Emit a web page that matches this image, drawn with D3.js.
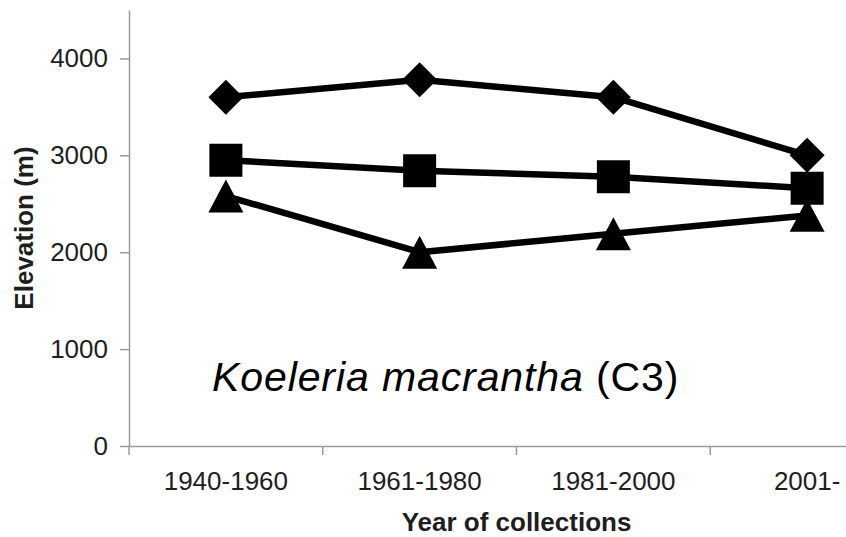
<!DOCTYPE html>
<html>
<head>
<meta charset="utf-8">
<script src="https://cdn.jsdelivr.net/npm/d3@7"></script>
<style>
  html, body { margin: 0; padding: 0; background: #fff; }
  svg { display: block; font-family: "Liberation Sans", Arial, Helvetica, sans-serif; }
</style>
</head>
<body>
<div id="chart"></div>
<script>
const categories = ["1940-1960", "1961-1980", "1981-2000", "2001-"];
const diamondVals = [3600, 3780, 3600, 3000];
const squareVals = [2950, 2840, 2780, 2660];
const triangleVals = [2580, 2000, 2190, 2380];
const yTicks = [0, 1000, 2000, 3000, 4000];

const W = 846, H = 537;
const margin = {top: 10, left: 129, bottom: 91};
const plotRight = 904;   // last band runs past the picture edge

const svg = d3.select("#chart").append("svg")
  .attr("width", W)
  .attr("height", H);

const x = d3.scaleBand()
  .domain(categories)
  .range([margin.left, plotRight]);

const y = d3.scaleLinear()
  .domain([0, 4500])
  .range([H - margin.bottom, margin.top]);

const axisColor = "#9a9a9a";
const textColor = "#1e1e1e";

// y axis
const yAxis = svg.append("g")
  .attr("transform", "translate(" + margin.left + ",0)")
  .call(d3.axisLeft(y).tickValues(yTicks).tickSize(9).tickSizeOuter(0).tickPadding(12).tickFormat(d3.format("d")));
yAxis.select(".domain").attr("stroke", axisColor).attr("stroke-width", 1.5);
yAxis.selectAll(".tick line").attr("stroke", axisColor).attr("stroke-width", 1.5);
yAxis.selectAll("text").attr("font-size", 26).attr("fill", textColor);

// x axis (labels at band centres, ticks at band edges)
const xAxis = svg.append("g")
  .attr("transform", "translate(0," + y(0) + ")")
  .call(d3.axisBottom(x).tickSize(0).tickSizeOuter(0).tickPadding(26));
xAxis.select(".domain").attr("stroke", axisColor).attr("stroke-width", 1.5);
xAxis.selectAll("text").attr("font-size", 26).attr("fill", textColor);

xAxis.selectAll(".edge")
  .data(categories.concat(["end"]))
  .join("line")
  .attr("class", "edge")
  .attr("x1", d => d === "end" ? plotRight : x(d))
  .attr("x2", d => d === "end" ? plotRight : x(d))
  .attr("y1", 0)
  .attr("y2", 9)
  .attr("stroke", axisColor)
  .attr("stroke-width", 1.5);

// marker shapes
const diamondShape = {
  draw(ctx, size) {
    const r = Math.sqrt(size) / 2;
    ctx.moveTo(0, -r); ctx.lineTo(r, 0); ctx.lineTo(0, r); ctx.lineTo(-r, 0); ctx.closePath();
  }
};
const squareShape = {
  draw(ctx, size) {
    const r = Math.sqrt(size) / 2;
    ctx.rect(-r, -r, 2 * r, 2 * r);
  }
};
const triangleShape = {
  draw(ctx, size) {
    const r = Math.sqrt(size) / 2;
    const h = r * 0.94;
    ctx.moveTo(0, -h); ctx.lineTo(r, h); ctx.lineTo(-r, h); ctx.closePath();
  }
};

const series = [
  {name: "triangle", values: triangleVals, shape: triangleShape, size: 35 * 35},
  {name: "square", values: squareVals, shape: squareShape, size: 33 * 33},
  {name: "diamond", values: diamondVals, shape: diamondShape, size: 35 * 35}
];

const line = d3.line()
  .x((d, i) => x(categories[i]) + x.bandwidth() / 2)
  .y(d => y(d));

series.forEach(s => {
  const g = svg.append("g").attr("class", "series-" + s.name);
  g.append("path")
    .datum(s.values)
    .attr("d", line)
    .attr("fill", "none")
    .attr("stroke", "#000")
    .attr("stroke-width", 6.5)
    .attr("stroke-linejoin", "round");
  g.selectAll("path.marker")
    .data(s.values)
    .join("path")
    .attr("class", "marker")
    .attr("transform", (d, i) => "translate(" + (x(categories[i]) + x.bandwidth() / 2) + "," + y(d) + ")")
    .attr("d", d3.symbol().type(s.shape).size(s.size))
    .attr("fill", "#000");
});

// species label
const label = svg.append("text")
  .attr("x", 212)
  .attr("y", 391)
  .attr("font-size", 41)
  .attr("letter-spacing", 0.9)
  .attr("fill", "#000");
label.append("tspan").attr("font-style", "italic").text("Koeleria macrantha");
label.append("tspan").text(" (C3)");

// axis titles
svg.append("text")
  .attr("transform", "translate(33," + (y(0) + y(4500)) / 2 + ") rotate(-90)")
  .attr("text-anchor", "middle")
  .attr("font-size", 26)
  .attr("font-weight", "bold")
  .attr("fill", textColor)
  .text("Elevation (m)");

svg.append("text")
  .attr("x", (margin.left + plotRight) / 2)
  .attr("y", 531)
  .attr("text-anchor", "middle")
  .attr("font-size", 26)
  .attr("font-weight", "bold")
  .attr("fill", textColor)
  .text("Year of collections");
</script>
</body>
</html>
